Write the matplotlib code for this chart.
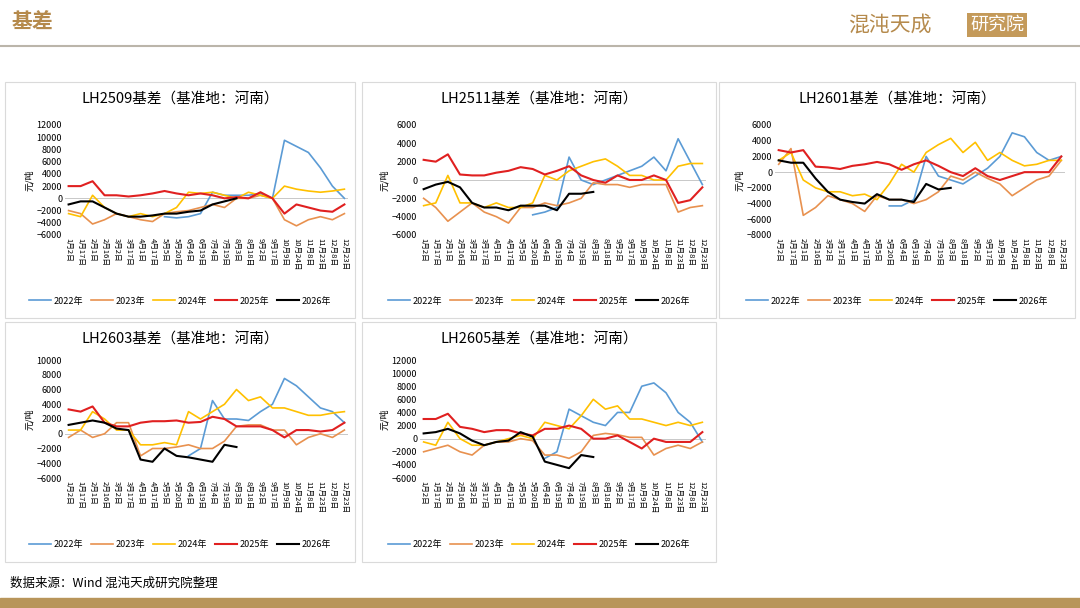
import numpy as np
import matplotlib
matplotlib.use('Agg')
import matplotlib.pyplot as plt
from matplotlib.patches import Rectangle

plt.rcParams['font.family'] = ['Noto Sans CJK SC', 'DejaVu Sans']

n = np.nan
tick_labels = ['1月2日', '1月17日', '2月1日', '2月16日', '3月2日', '3月17日', '4月1日', '4月17日',
               '5月5日', '5月20日', '6月4日', '6月19日', '7月4日', '7月19日', '8月3日', '8月18日',
               '9月2日', '9月17日', '10月9日', '10月24日', '11月8日', '11月23日', '12月8日', '12月23日']
years = ['2022年', '2023年', '2024年', '2025年', '2026年']
colors = ['#5B9BD5', '#E8914F', '#FFC000', '#E02020', '#000000']

lh2509 = [
    [n]*8 + [-3000, -3200, -3000, -2500, 1000, 500, 500, 500, 800, 0, 9500, 8500, 7500, 5000, 2000, 0],
    [-2000, -2500, -4200, -3500, -2500, -3000, -3500, -3800, -2500, -2200, -2000, -1500, -1000, -1500, 0, 0, 500, 0, -3500, -4500, -3500, -3000, -3500, -2500],
    [-2500, -3000, 500, -1500, -2500, -3000, -2500, -3000, -2500, -1500, 1000, 800, 1000, 500, 0, 1000, 500, 0, 2000, 1500, 1200, 1000, 1200, 1500],
    [2000, 2000, 2800, 500, 500, 300, 500, 800, 1200, 800, 500, 800, 500, 0, 200, 0, 1000, 0, -2500, -1000, -1500, -2000, -2200, -1000],
    [-1000, -500, -500, -1500, -2500, -3000, -3000, -2800, -2500, -2500, -2200, -2000, -1000, -500, 0],
]
lh2511 = [
    [n]*9 + [-3800, -3500, -3000, 2500, 0, -500, 0, 500, 1000, 1500, 2500, 1000, 4500, 2000, -500],
    [-2000, -3000, -4500, -3500, -2500, -3500, -4000, -4700, -3000, -3000, -2500, -2800, -2500, -2000, -300, -500, -500, -800, -500, -500, -500, -3500, -3000, -2800],
    [-2800, -2500, 500, -2500, -2500, -3000, -2500, -3000, -3000, -2500, 500, 0, 1000, 1500, 2000, 2300, 1500, 500, 500, 0, 0, 1500, 1800, 1800],
    [2200, 2000, 2800, 600, 500, 500, 800, 1000, 1400, 1200, 600, 1000, 1500, 500, 0, -300, 500, 0, 0, 500, 0, -2500, -2200, -800],
    [-1000, -500, -200, -800, -2500, -3000, -3000, -3300, -2800, -2800, -2800, -3300, -1500, -1500, -1300],
]
lh2601 = [
    [n]*9 + [-4300, -4300, -3500, 2000, -500, -1000, -1500, -500, 500, 2000, 5000, 4500, 2500, 1500, 2000],
    [1000, 3000, -5500, -4500, -3000, -3500, -4000, -5000, -3000, -3500, -3500, -4000, -3500, -2500, -500, -1000, 0, -800, -1500, -3000, -2000, -1000, -500, 1500],
    [1500, 2500, -1000, -2000, -2500, -2500, -3000, -2800, -3500, -1500, 1000, 0, 2500, 3500, 4300, 2500, 3800, 1500, 2500, 1500, 800, 1000, 1500, 1500],
    [2800, 2500, 2800, 700, 600, 400, 800, 1000, 1300, 1000, 300, 1000, 1500, 800, 0, -500, 500, -500, -1000, -500, 0, 0, 0, 2000],
    [1500, 1200, 1200, -800, -2500, -3500, -3800, -4000, -2800, -3500, -3500, -3800, -1500, -2200, -2000],
]
lh2603 = [
    [n]*10 + [-3000, -2000, 4500, 2000, 2000, 1800, 3000, 4000, 7500, 6500, 5000, 3500, 3000, 1500],
    [-500, 500, -500, 0, 1500, 1500, -3000, -2000, -2000, -1800, -1500, -2000, -2000, -1000, 1000, 1200, 1200, 500, 500, -1500, -500, 0, -500, 500],
    [500, 500, 3000, 2000, 500, 500, -1500, -1500, -1200, -1500, 3000, 2000, 3000, 4000, 6000, 4500, 5000, 3500, 3500, 3000, 2500, 2500, 2800, 3000],
    [3300, 3000, 3700, 1500, 1000, 1000, 1500, 1700, 1700, 1800, 1500, 1600, 2300, 2000, 1000, 1000, 1000, 500, -500, 500, 500, 300, 500, 1500],
    [1200, 1500, 1800, 1500, 700, 500, -3500, -3800, -2000, -3000, -3200, -3500, -3800, -1500, -1800],
]
lh2605 = [
    [n]*10 + [-3000, -2000, 4500, 3500, 2500, 2000, 4000, 4000, 8000, 8500, 7000, 4000, 2500, -500],
    [-2000, -1500, -1000, -2000, -2500, -1000, -500, -500, 0, -300, -2500, -2500, -3000, -2000, 500, 800, 600, 200, 200, -2500, -1500, -1000, -1500, -500],
    [-500, -1000, 2500, 0, -1000, -1000, -500, 0, 500, 0, 2500, 2000, 1500, 3500, 6000, 4500, 5000, 3000, 3000, 2500, 2000, 2500, 2000, 2500],
    [3000, 3000, 3800, 1800, 1500, 1000, 1300, 1300, 800, 500, 1500, 1500, 2000, 1500, 0, 0, 500, -500, -1500, 0, -500, -500, -500, 1000],
    [800, 1000, 1500, 800, -300, -1000, -500, -300, 1000, 300, -3500, -4000, -4500, -2500, -2800],
]

charts = [
    ('LH2509基差（基准地：河南）', lh2509, (-6000, 12000)),
    ('LH2511基差（基准地：河南）', lh2511, (-6000, 6000)),
    ('LH2601基差（基准地：河南）', lh2601, (-8000, 6000)),
    ('LH2603基差（基准地：河南）', lh2603, (-6000, 10000)),
    ('LH2605基差（基准地：河南）', lh2605, (-6000, 12000)),
]

W, H = 1080, 608
fig = plt.figure(figsize=(10.8, 6.08), dpi=100)
gold = '#B58A4C'

# header and footer
fig.text(12 / W, 1 - 22 / H, '基差', fontsize=15, color=gold, va='center', fontweight='bold')
fig.text(848 / W, 1 - 25 / H, '混沌天成', fontsize=15, color=gold, va='center')
fig.text(970 / W, 1 - 25 / H, '研究院', fontsize=13, color='white', va='center',
         bbox=dict(facecolor='#C49A5A', edgecolor='none', pad=2))
fig.add_artist(plt.Line2D([0, 1], [1 - 46 / H, 1 - 46 / H], color='#BBB5AA', lw=1.5))
fig.text(10 / W, 1 - 583 / H, '数据来源：Wind 混沌天成研究院整理', fontsize=9, va='center')
fig.add_artist(Rectangle((0, 0), 1, 10 / H, color='#B8955A'))

panels = [(5, 82, 355, 318), (362, 82, 716, 318), (719, 82, 1075, 318),
          (5, 322, 355, 562), (362, 322, 716, 562)]
axes_px = [(65, 125, 348, 235), (420, 125, 706, 235), (775, 125, 1065, 235),
           (65, 360, 348, 478), (420, 360, 706, 478)]

x = np.arange(len(tick_labels))
for (title, data, ylim), (l, t, r, b), (al, at, ar, ab) in zip(charts, panels, axes_px):
    fig.add_artist(Rectangle((l / W, 1 - b / H), (r - l) / W, (b - t) / H,
                             fill=False, edgecolor='#DADADA', lw=0.8))
    ax = fig.add_axes([al / W, 1 - ab / H, (ar - al) / W, (ab - at) / H])
    for vals, c, yr in zip(data, colors, years):
        ax.plot(x[:len(vals)], vals, color=c, lw=1.5 if yr in ('2025年', '2026年') else 1.2, label=yr)
    ax.axhline(0, color='#C8C8C8', lw=0.7, zorder=0)
    ax.set_ylim(*ylim)
    ax.set_yticks(np.arange(ylim[0], ylim[1] + 1, 2000))
    ax.set_xlim(-0.3, len(tick_labels) - 0.7)
    ax.set_xticks(x)
    ax.set_xticklabels(tick_labels, rotation=270, fontsize=5.5)
    ax.tick_params(axis='y', labelsize=6.5, length=0, pad=2)
    ax.tick_params(axis='x', length=0, pad=2)
    for s in ax.spines.values():
        s.set_visible(False)
    ax.set_ylabel('元/吨', fontsize=6.5, labelpad=2)
    fig.text((l + r) / 2 / W, 1 - (t + 18) / H, title, fontsize=10.5, ha='center', va='center')
    fig.legend(*ax.get_legend_handles_labels(), loc='center', ncol=5, frameon=False,
               fontsize=6.5, bbox_to_anchor=((l + r) / 2 / W, 1 - (b - 17) / H),
               handlelength=2.4, handletextpad=0.3, columnspacing=0.9)

plt.savefig('out.png', dpi=100)
plt.close()
